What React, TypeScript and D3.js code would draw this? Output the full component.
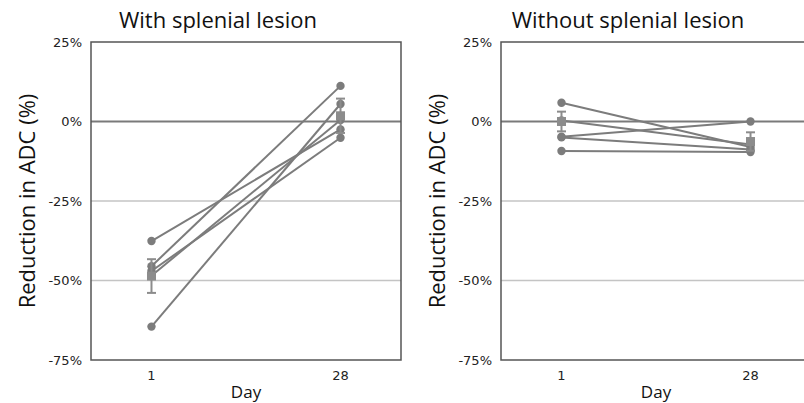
import React from 'react';
import * as d3 from 'd3';

// values (percent reduction in ADC)
const days = ['1', '28'];
const yTicks = [25, 0, -25, -50, -75];

const withDay1 = [-45.5, -37.6, -64.5, -47.0, -48.5];
const withDay28 = [11.2, -2.5, 5.5, -5.1, 0.5];
const withMean = [-48.6, 1.8];
const withSE = [5.3, 5.4];

const withoutDay1 = [5.9, 0.3, -4.8, -5.0, -9.3];
const withoutDay28 = [-8.0, -7.2, 0.0, -8.8, -9.6];
const withoutMean = [0.0, -6.3];
const withoutSE = [3.1, 2.9];

const W = 804;
const H = 403;
const TOP = 42;
const BOTTOM = 360;
const PLOT_W = 310;
const FONT = '"Open Sans", "DejaVu Sans", sans-serif';
const TICK_FONT = '"DejaVu Sans", sans-serif';

const LINE = '#7c7c7c';
const MEAN = '#8c8c8c';

interface PanelProps {
  left: number;
  title: string;
  day1: number[];
  day28: number[];
  mean: number[];
  se: number[];
}

const Panel = ({ left, title, day1, day28, mean, se }: PanelProps) => {
  const right = left + PLOT_W;
  const x = d3.scalePoint<string>().domain(days).range([left, right]).padding(0.32);
  const y = d3.scaleLinear().domain([-75, 25]).range([BOTTOM, TOP]);
  const cx = (left + right) / 2;

  const subjects = day1.map((v, i) => [v, day28[i]]);
  const line = d3.line<number>()
    .x((_, i) => x(days[i]) as number)
    .y(d => y(d));

  return (
    <g>
      <text x={cx - 28} y={28} textAnchor="middle" fontSize={22} fill="#111">{title}</text>

      {/* grid */}
      {yTicks.filter(t => t === -25 || t === -50).map(t => (
        <line key={t} x1={left} x2={right} y1={y(t)} y2={y(t)} stroke="#c4c4c4" strokeWidth={1.5} />
      ))}
      <line x1={left} x2={right} y1={y(0)} y2={y(0)} stroke="#7a7a7a" strokeWidth={2} />

      {/* frame */}
      <rect x={left} y={TOP} width={PLOT_W} height={BOTTOM - TOP} fill="none" stroke="#555" strokeWidth={1.5} />

      {yTicks.map(t => (
        <text key={t} x={left - 9} y={y(t)} dy="0.35em" textAnchor="end" fontSize={13} fill="#222" fontFamily={TICK_FONT}>{t}%</text>
      ))}
      {days.map(d => (
        <text key={d} x={x(d)} y={380} textAnchor="middle" fontSize={13} fill="#222" fontFamily={TICK_FONT}>{d}</text>
      ))}
      <text x={cx} y={398} textAnchor="middle" fontSize={17} fill="#111">Day</text>
      <text
        transform={`translate(${left - 56},${(TOP + BOTTOM) / 2}) rotate(-90)`}
        textAnchor="middle"
        fontSize={22}
        fill="#111"
      >Reduction in ADC (%)</text>

      {/* subjects */}
      {subjects.map((s, i) => (
        <path key={i} d={line(s) || ''} fill="none" stroke={LINE} strokeWidth={2} />
      ))}
      {subjects.map((s, i) => s.map((v, j) => (
        <circle key={`${i}-${j}`} cx={x(days[j])} cy={y(v)} r={4.2} fill={LINE} />
      )))}

      {/* mean +- SE */}
      {mean.map((m, j) => {
        const px = x(days[j]) as number;
        return (
          <g key={j}>
            <line x1={px} x2={px} y1={y(m + se[j])} y2={y(m - se[j])} stroke={MEAN} strokeWidth={2} />
            <line x1={px - 4.5} x2={px + 4.5} y1={y(m + se[j])} y2={y(m + se[j])} stroke={MEAN} strokeWidth={2} />
            <line x1={px - 4.5} x2={px + 4.5} y1={y(m - se[j])} y2={y(m - se[j])} stroke={MEAN} strokeWidth={2} />
            <rect x={px - 4.5} y={y(m) - 4.5} width={9} height={9} fill={MEAN} />
          </g>
        );
      })}
    </g>
  );
};

export default function App() {
  return (
    <svg
      width={W}
      height={H}
      style={{ position: 'absolute', left: 0, top: 0, background: '#fff' }}
      fontFamily={FONT}
    >
      <rect width={W} height={H} fill="#fff" />
      <Panel left={91} title="With splenial lesion" day1={withDay1} day28={withDay28} mean={withMean} se={withSE} />
      <Panel left={501} title="Without splenial lesion" day1={withoutDay1} day28={withoutDay28} mean={withoutMean} se={withoutSE} />
    </svg>
  );
}
